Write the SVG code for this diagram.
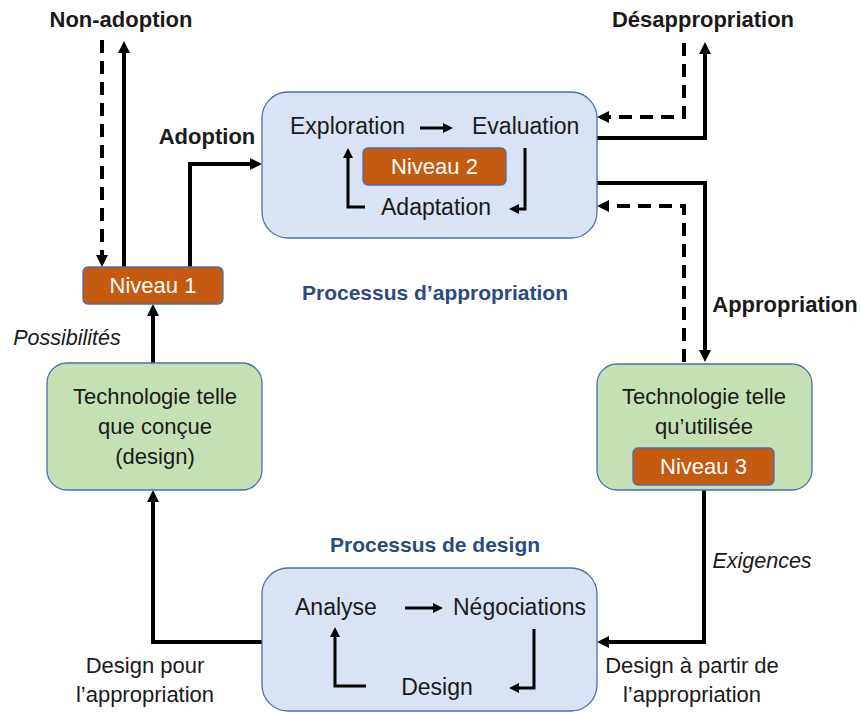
<svg xmlns="http://www.w3.org/2000/svg" width="861" height="713" viewBox="0 0 861 713">
<defs>
<style>
text{font-family:"Liberation Sans",Arial,sans-serif;font-size:22px;fill:#1a1a1a}
.b{font-weight:bold;font-size:22px}
.i{font-style:italic;font-size:21.5px}
.t{font-weight:bold;fill:#2B4A80;font-size:21px}
.in{font-size:23px}
.w{fill:#ffffff;font-size:22px}
.proc{fill:#DAE3F3;stroke:#4A6FB0;stroke-width:1.3}
.tech{fill:#C5E0B4;stroke:#4A6FB0;stroke-width:1.3}
.niv{fill:#C55A11;stroke:#4A6FB0;stroke-width:1.3}
.c{fill:none;stroke:#000;stroke-width:4}
.d{stroke-dasharray:13 8}
.s{fill:none;stroke:#000;stroke-width:3}
</style>
<marker id="a" viewBox="0 0 12 12" markerWidth="12" markerHeight="12" refX="8" refY="6" orient="auto" markerUnits="userSpaceOnUse"><path d="M0,0 L12,6 L0,12 z" fill="#000"/></marker>
<marker id="sa" viewBox="0 0 10 10" markerWidth="10" markerHeight="10" refX="6" refY="5" orient="auto" markerUnits="userSpaceOnUse"><path d="M0,0 L10,5 L0,10 z" fill="#000"/></marker>
</defs>

<g id="connectors">
<path class="c d" d="M102,40 V263" marker-end="url(#a)"/>
<path class="c" d="M124,267 V45" marker-end="url(#a)"/>
<path class="c" d="M190,267 V164 H258" marker-end="url(#a)"/>
<path class="c" d="M153,363 V308" marker-end="url(#a)"/>
<path class="c d" d="M684,43 V117 H601" marker-end="url(#a)"/>
<path class="c" d="M597,138 H705 V46" marker-end="url(#a)"/>
<path class="c" d="M595,183 H705 V358" marker-end="url(#a)"/>
<path class="c d" d="M684,362 V206 H601" marker-end="url(#a)"/>
<path class="c" d="M704,490 V642 H601" marker-end="url(#a)"/>
<path class="c" d="M262,642 H153 V494" marker-end="url(#a)"/>
</g>

<g id="appropriation">
<rect class="proc" x="262" y="92" width="335" height="146" rx="26"/>
<text class="in" x="290" y="134">Exploration</text>
<text class="in" x="472" y="134">Evaluation</text>
<text class="in" x="436" y="215" text-anchor="middle">Adaptation</text>
<path class="s" d="M420,128 H449" marker-end="url(#sa)"/>
<path class="s" d="M525,148 V209 H513" marker-end="url(#sa)"/>
<path class="s" d="M365,207 H348 V152" marker-end="url(#sa)"/>
</g>
<g id="niveau2">
<rect class="niv" x="363" y="148" width="143" height="37" rx="5"/>
<text class="w" x="434.5" y="174" text-anchor="middle">Niveau 2</text>
</g>
<text class="t" x="435" y="300" text-anchor="middle">Processus d’appropriation</text>

<g id="niveau1">
<rect class="niv" x="83" y="267" width="140" height="37" rx="5"/>
<text class="w" x="153" y="293" text-anchor="middle">Niveau 1</text>
</g>

<g id="tech-concue">
<rect class="tech" x="47" y="363" width="215" height="127" rx="20"/>
<text x="155" y="404" text-anchor="middle">Technologie telle</text>
<text x="155" y="434" text-anchor="middle">que conçue</text>
<text x="155" y="464" text-anchor="middle">(design)</text>
</g>

<g id="tech-utilisee">
<rect class="tech" x="597" y="364" width="215" height="126" rx="20"/>
<text x="704" y="404" text-anchor="middle">Technologie telle</text>
<text x="704" y="434" text-anchor="middle">qu’utilisée</text>
</g>
<g id="niveau3">
<rect class="niv" x="633" y="448" width="141" height="37" rx="5"/>
<text class="w" x="703.5" y="474" text-anchor="middle">Niveau 3</text>
</g>

<g id="design">
<rect class="proc" x="262" y="568" width="335" height="143" rx="26"/>
<text class="in" x="295" y="615">Analyse</text>
<text class="in" x="453" y="615">Négociations</text>
<text class="in" x="437" y="695" text-anchor="middle">Design</text>
<path class="s" d="M405,608 H439" marker-end="url(#sa)"/>
<path class="s" d="M534,629 V688 H513" marker-end="url(#sa)"/>
<path class="s" d="M366,686 H335 V631" marker-end="url(#sa)"/>
</g>
<text class="t" x="435" y="552" text-anchor="middle">Processus de design</text>

<text class="b" x="121" y="27" text-anchor="middle">Non-adoption</text>
<text class="b" x="703" y="27" text-anchor="middle">Désappropriation</text>
<text class="b" x="207" y="144" text-anchor="middle">Adoption</text>
<text class="b" x="785" y="312" text-anchor="middle">Appropriation</text>
<text class="i" x="67" y="345" text-anchor="middle">Possibilités</text>
<text class="i" x="762" y="568" text-anchor="middle">Exigences</text>
<text x="145" y="673" text-anchor="middle">Design pour</text>
<text x="145" y="702" text-anchor="middle">l’appropriation</text>
<text x="692" y="673" text-anchor="middle">Design à partir de</text>
<text x="692" y="702" text-anchor="middle">l’appropriation</text>
</svg>
